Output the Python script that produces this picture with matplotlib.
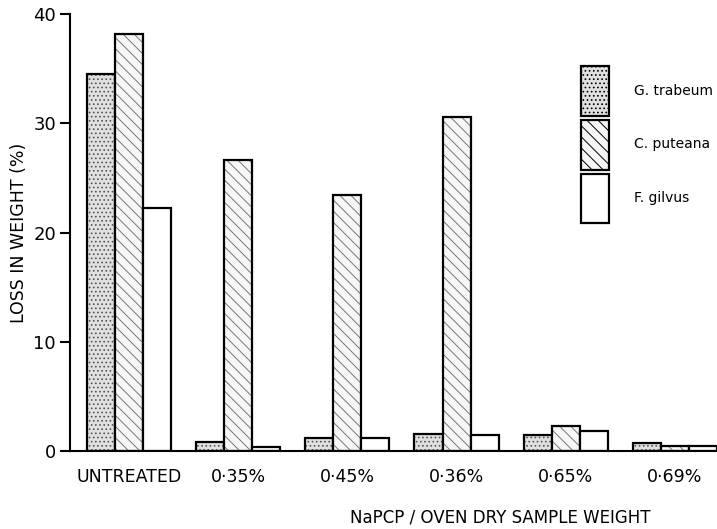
import matplotlib
matplotlib.use("Agg")
import matplotlib.pyplot as plt
import numpy as np
from matplotlib.patches import Patch

categories = ["UNTREATED", "0·35%", "0·45%", "0·36%", "0·65%", "0·69%"]
g_trabeum = [34.5, 0.8, 1.2, 1.6, 1.5, 0.7]
c_puteana = [38.2, 26.6, 23.4, 30.6, 2.3, 0.5]
f_gilvus = [22.2, 0.4, 1.2, 1.5, 1.8, 0.5]
series_names = ["G. trabeum", "C. puteana", "F. gilvus"]
yticks = [0, 10, 20, 30, 40]

plt.rcParams['font.family'] = ['DejaVu Sans']
plt.rcParams['hatch.linewidth'] = 0.7

fig = plt.figure(figsize=(7.17, 5.29), dpi=100)
ax = fig.add_axes([0.0976, 0.1474, 0.9024, 0.8261])

x = np.arange(len(categories))
w = 0.257
styles = [
    dict(facecolor='#e0e0e0', hatch='....', hcolor='#555555'),
    dict(facecolor='#f6f6f6', hatch='\\\\\\', hcolor='#777777'),
    dict(facecolor='white', hatch=None, hcolor='white'),
]
for i, (vals, st) in enumerate(zip([g_trabeum, c_puteana, f_gilvus], styles)):
    pos = x + (i - 1) * w
    ax.bar(pos, vals, w, facecolor=st['facecolor'], edgecolor=st['hcolor'],
           linewidth=0, hatch=st['hatch'])
    ax.bar(pos, vals, w, facecolor='none', edgecolor='black', linewidth=1.6)

ax.set_xlim(-0.54, 5.385)
ax.set_ylim(0, 40)
ax.set_yticks(yticks)
ax.set_yticklabels([str(v) for v in yticks], fontsize=13)
ax.set_xticks(x)
ax.set_xticklabels(categories, fontsize=12.5)
ax.tick_params(axis='x', length=0, pad=12)
ax.tick_params(axis='y', length=7, width=1.5, direction='out', pad=3)
for s in ['top', 'right']:
    ax.spines[s].set_visible(False)
ax.spines['left'].set_linewidth(1.5)
ax.spines['bottom'].set_linewidth(1.5)

ax.set_ylabel("LOSS IN WEIGHT (%)", fontsize=12.5, labelpad=4)
fig.text(500 / 717, 1 - 517 / 529, "NaPCP / OVEN DRY SAMPLE WEIGHT",
         fontsize=12, ha='center', va='center')

handles = [
    Patch(facecolor='#e0e0e0', edgecolor='black', linewidth=1.6, hatch='....'),
    Patch(facecolor='#f6f6f6', edgecolor='black', linewidth=1.6, hatch='\\\\\\'),
    Patch(facecolor='white', edgecolor='black', linewidth=1.6),
]
leg = ax.legend(handles, series_names, loc='upper left', bbox_to_anchor=(0.79, 0.88),
                frameon=False, handlelength=2.0, handleheight=5.1, handletextpad=1.8,
                labelspacing=0.3, fontsize=10, borderpad=0, borderaxespad=0)

fig.savefig("out.png", dpi=100)
